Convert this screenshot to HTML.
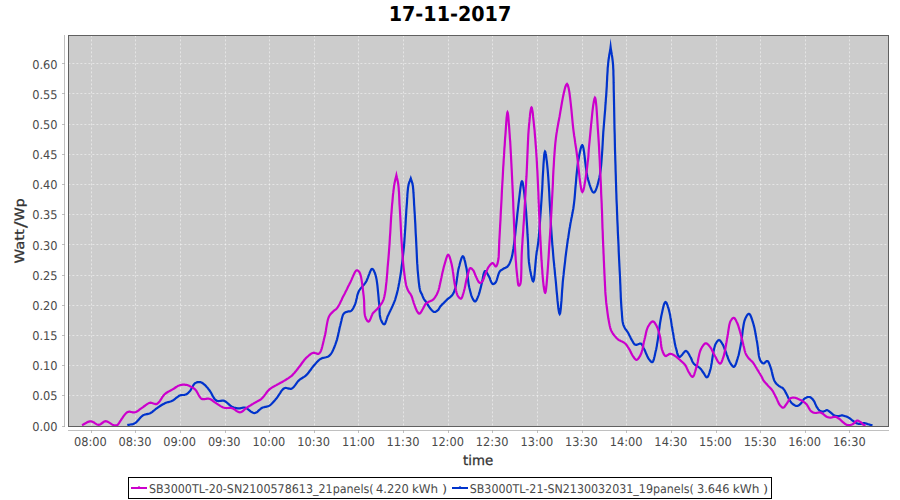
<!DOCTYPE html>
<html><head><meta charset="utf-8"><title>17-11-2017</title>
<style>html,body{margin:0;padding:0;background:#ffffff;overflow:hidden}svg{display:block}</style>
</head><body>
<svg width="900" height="500" viewBox="0 0 900 500" text-rendering="geometricPrecision"><rect x="68" y="35" width="821" height="392" fill="#cccccc"/>
<g stroke="#ffffff" stroke-width="0.5" stroke-dasharray="2,2" stroke-dashoffset="-0.4"><line x1="91.5" y1="35" x2="91.5" y2="426"/><line x1="135.5" y1="35" x2="135.5" y2="426"/><line x1="180.5" y1="35" x2="180.5" y2="426"/><line x1="225.5" y1="35" x2="225.5" y2="426"/><line x1="269.5" y1="35" x2="269.5" y2="426"/><line x1="314.5" y1="35" x2="314.5" y2="426"/><line x1="358.5" y1="35" x2="358.5" y2="426"/><line x1="403.5" y1="35" x2="403.5" y2="426"/><line x1="448.5" y1="35" x2="448.5" y2="426"/><line x1="492.5" y1="35" x2="492.5" y2="426"/><line x1="537.5" y1="35" x2="537.5" y2="426"/><line x1="582.5" y1="35" x2="582.5" y2="426"/><line x1="626.5" y1="35" x2="626.5" y2="426"/><line x1="671.5" y1="35" x2="671.5" y2="426"/><line x1="716.5" y1="35" x2="716.5" y2="426"/><line x1="760.5" y1="35" x2="760.5" y2="426"/><line x1="805.5" y1="35" x2="805.5" y2="426"/><line x1="849.5" y1="35" x2="849.5" y2="426"/><line x1="68" y1="395.5" x2="888" y2="395.5"/><line x1="68" y1="365.5" x2="888" y2="365.5"/><line x1="68" y1="335.5" x2="888" y2="335.5"/><line x1="68" y1="305.5" x2="888" y2="305.5"/><line x1="68" y1="275.5" x2="888" y2="275.5"/><line x1="68" y1="244.5" x2="888" y2="244.5"/><line x1="68" y1="214.5" x2="888" y2="214.5"/><line x1="68" y1="184.5" x2="888" y2="184.5"/><line x1="68" y1="154.5" x2="888" y2="154.5"/><line x1="68" y1="124.5" x2="888" y2="124.5"/><line x1="68" y1="93.5" x2="888" y2="93.5"/><line x1="68" y1="63.5" x2="888" y2="63.5"/></g>
<defs><clipPath id="pc"><rect x="68" y="35" width="820" height="391"/></clipPath></defs><g clip-path="url(#pc)" fill="none" stroke-width="2.2" stroke-linejoin="miter" stroke-miterlimit="10" stroke-linecap="butt"><path stroke="#0033cc" d="M127.3,425.1 L128.1,424.9 L128.9,424.8 L129.6,424.7 L130.4,424.5 L131.2,424.4 L132.0,424.3 L132.8,424.1 L133.5,423.9 L134.3,423.6 L135.0,423.2 L135.8,422.6 L136.6,421.9 L137.4,421.1 L138.2,420.2 L139.0,419.3 L139.7,418.4 L140.5,417.5 L141.3,416.7 L142.1,416.0 L142.9,415.4 L143.6,415.0 L144.3,414.8 L145.1,414.5 L145.8,414.4 L146.5,414.2 L147.3,414.1 L148.0,413.9 L148.8,413.7 L149.5,413.5 L150.2,413.2 L150.9,412.8 L151.7,412.3 L152.4,411.8 L153.1,411.2 L153.8,410.6 L154.5,410.1 L155.2,409.5 L155.9,408.9 L156.7,408.3 L157.4,407.8 L158.2,407.3 L158.9,406.8 L159.7,406.3 L160.5,405.8 L161.3,405.3 L162.1,404.8 L162.9,404.3 L163.7,403.9 L164.5,403.5 L165.3,403.1 L166.0,402.8 L166.8,402.5 L167.5,402.3 L168.2,402.1 L169.0,401.9 L169.7,401.7 L170.4,401.5 L171.2,401.2 L171.9,400.9 L172.6,400.6 L173.3,400.2 L174.1,399.7 L174.8,399.1 L175.5,398.5 L176.2,397.9 L177.0,397.3 L177.7,396.8 L178.4,396.3 L179.1,395.8 L179.8,395.5 L180.4,395.3 L181.0,395.2 L181.6,395.1 L182.2,395.0 L182.7,395.0 L183.3,395.0 L183.9,395.0 L184.5,394.9 L185.0,394.8 L185.5,394.6 L186.0,394.4 L186.4,394.2 L186.8,393.9 L187.2,393.7 L187.6,393.4 L188.0,393.1 L188.3,392.7 L188.7,392.4 L189.1,392.0 L189.5,391.6 L190.1,390.9 L190.6,390.1 L191.1,389.2 L191.7,388.2 L192.2,387.2 L192.8,386.2 L193.3,385.3 L193.9,384.4 L194.5,383.7 L195.1,383.2 L195.5,382.9 L196.0,382.7 L196.4,382.5 L196.9,382.4 L197.3,382.2 L197.8,382.2 L198.3,382.1 L198.7,382.1 L199.2,382.1 L199.6,382.1 L200.0,382.2 L200.4,382.2 L200.8,382.3 L201.2,382.5 L201.6,382.6 L201.9,382.8 L202.3,383.0 L202.7,383.3 L203.1,383.5 L203.5,383.8 L204.1,384.3 L204.7,384.8 L205.3,385.4 L205.9,386.0 L206.5,386.7 L207.2,387.4 L207.8,388.2 L208.4,389.0 L209.0,389.7 L209.6,390.5 L210.3,391.5 L210.9,392.5 L211.6,393.7 L212.2,394.9 L212.8,396.1 L213.5,397.2 L214.1,398.3 L214.8,399.2 L215.6,400.0 L216.4,400.6 L217.1,400.9 L217.8,401.0 L218.6,401.1 L219.4,401.0 L220.2,400.9 L221.0,400.8 L221.9,400.7 L222.7,400.7 L223.4,400.7 L224.2,400.9 L225.0,401.3 L225.8,401.8 L226.6,402.3 L227.4,403.0 L228.1,403.7 L228.9,404.4 L229.7,405.1 L230.4,405.7 L231.2,406.3 L232.0,406.7 L232.7,407.0 L233.4,407.3 L234.0,407.5 L234.7,407.7 L235.4,407.9 L236.1,408.1 L236.8,408.2 L237.5,408.3 L238.1,408.3 L238.8,408.4 L239.4,408.4 L240.0,408.3 L240.7,408.2 L241.3,408.0 L241.9,407.9 L242.5,407.7 L243.1,407.6 L243.7,407.5 L244.3,407.5 L245.0,407.6 L245.9,407.9 L246.8,408.4 L247.8,409.1 L248.7,409.8 L249.7,410.6 L250.6,411.4 L251.6,412.1 L252.6,412.6 L253.5,413.0 L254.4,413.1 L255.2,413.0 L256.0,412.6 L256.8,412.2 L257.6,411.6 L258.3,410.9 L259.1,410.2 L259.9,409.5 L260.6,408.8 L261.4,408.3 L262.2,407.8 L262.9,407.5 L263.6,407.3 L264.4,407.1 L265.1,406.9 L265.8,406.8 L266.6,406.6 L267.3,406.5 L268.0,406.2 L268.7,406.0 L269.4,405.6 L270.2,405.1 L270.9,404.5 L271.7,403.8 L272.4,403.1 L273.1,402.3 L273.8,401.5 L274.5,400.7 L275.2,399.9 L275.9,399.0 L276.6,398.2 L277.4,397.2 L278.1,396.1 L278.9,395.0 L279.6,393.8 L280.4,392.6 L281.1,391.4 L281.9,390.4 L282.7,389.5 L283.5,388.7 L284.4,388.2 L285.1,388.0 L285.8,387.9 L286.5,388.0 L287.3,388.2 L288.0,388.4 L288.7,388.6 L289.5,388.7 L290.2,388.8 L290.9,388.8 L291.6,388.6 L292.4,388.2 L293.2,387.5 L293.9,386.7 L294.6,385.9 L295.4,384.9 L296.1,383.9 L296.8,382.9 L297.5,381.9 L298.2,381.1 L299.0,380.3 L299.7,379.7 L300.4,379.2 L301.1,378.7 L301.9,378.2 L302.6,377.8 L303.3,377.3 L304.1,376.9 L304.8,376.4 L305.5,375.8 L306.2,375.2 L307.0,374.4 L307.8,373.5 L308.6,372.5 L309.3,371.5 L310.1,370.5 L310.9,369.5 L311.6,368.4 L312.4,367.4 L313.1,366.5 L313.9,365.6 L314.6,364.8 L315.2,364.1 L315.8,363.4 L316.5,362.6 L317.1,361.9 L317.8,361.3 L318.4,360.6 L319.1,360.0 L319.8,359.4 L320.6,358.9 L321.4,358.5 L322.3,358.1 L323.2,357.9 L324.1,357.7 L325.1,357.5 L326.0,357.3 L326.9,357.0 L327.8,356.7 L328.6,356.3 L329.4,355.7 L330.2,354.8 L331.0,353.9 L331.7,352.8 L332.4,351.5 L333.0,350.3 L333.6,348.9 L334.2,347.5 L334.7,346.1 L335.3,344.6 L335.8,343.2 L336.4,341.4 L337.0,339.6 L337.5,337.6 L338.0,335.6 L338.4,333.5 L338.9,331.5 L339.3,329.5 L339.7,327.5 L340.2,325.7 L340.6,324.0 L340.9,322.8 L341.2,321.6 L341.5,320.4 L341.7,319.2 L342.0,318.0 L342.3,317.0 L342.6,316.0 L342.9,315.1 L343.3,314.3 L343.8,313.6 L344.1,313.3 L344.5,313.0 L344.8,312.7 L345.2,312.5 L345.6,312.3 L346.0,312.1 L346.4,312.0 L346.8,311.9 L347.2,311.7 L347.6,311.6 L348.0,311.5 L348.3,311.4 L348.7,311.4 L349.0,311.4 L349.4,311.4 L349.7,311.3 L350.1,311.3 L350.4,311.2 L350.8,311.1 L351.1,310.9 L351.6,310.5 L352.0,310.1 L352.4,309.5 L352.8,308.9 L353.2,308.2 L353.6,307.5 L353.9,306.8 L354.3,306.0 L354.7,305.2 L355.0,304.4 L355.4,303.3 L355.8,302.0 L356.1,300.7 L356.4,299.4 L356.8,298.0 L357.1,296.5 L357.4,295.1 L357.8,293.8 L358.3,292.5 L358.8,291.3 L359.4,290.3 L360.0,289.3 L360.7,288.4 L361.4,287.6 L362.2,286.7 L362.9,285.9 L363.7,285.0 L364.4,284.1 L365.1,283.2 L365.8,282.2 L366.5,280.9 L367.2,279.3 L367.9,277.6 L368.5,275.8 L369.2,274.1 L369.8,272.5 L370.4,271.1 L371.0,269.9 L371.5,269.2 L372.1,268.9 L372.5,269.0 L372.9,269.3 L373.2,269.7 L373.6,270.2 L374.0,270.9 L374.3,271.7 L374.7,272.5 L375.0,273.4 L375.3,274.3 L375.6,275.2 L376.1,277.2 L376.6,279.6 L377.0,282.3 L377.4,285.3 L377.7,288.4 L378.0,291.6 L378.3,294.7 L378.6,297.8 L378.8,300.6 L379.1,303.2 L379.3,305.0 L379.4,306.7 L379.5,308.5 L379.5,310.2 L379.6,311.8 L379.7,313.4 L379.8,314.9 L380.0,316.3 L380.3,317.6 L380.6,318.8 L380.9,319.6 L381.2,320.3 L381.5,321.1 L381.9,321.9 L382.3,322.6 L382.7,323.2 L383.1,323.7 L383.5,324.1 L383.9,324.3 L384.2,324.4 L384.6,324.2 L385.0,323.8 L385.3,323.1 L385.7,322.2 L386.0,321.2 L386.4,320.1 L386.7,319.0 L387.1,317.9 L387.4,316.9 L387.8,316.0 L388.2,315.2 L388.6,314.3 L389.0,313.5 L389.4,312.6 L389.8,311.8 L390.2,311.0 L390.6,310.1 L391.0,309.3 L391.4,308.5 L391.8,307.6 L392.2,306.7 L392.6,305.9 L392.9,305.1 L393.3,304.2 L393.7,303.4 L394.0,302.5 L394.4,301.7 L394.7,300.8 L395.1,299.8 L395.4,298.8 L395.8,297.4 L396.2,296.0 L396.6,294.6 L397.0,293.1 L397.4,291.5 L397.8,289.9 L398.1,288.2 L398.5,286.5 L398.8,284.7 L399.2,282.8 L399.7,280.0 L400.2,276.9 L400.7,273.8 L401.2,270.5 L401.6,267.0 L402.1,263.5 L402.5,260.0 L402.9,256.4 L403.3,252.8 L403.7,249.2 L404.1,245.1 L404.4,240.9 L404.7,236.5 L405.0,232.0 L405.3,227.6 L405.6,223.2 L405.8,218.8 L406.1,214.7 L406.3,210.7 L406.6,207.0 L406.8,204.4 L407.0,201.8 L407.1,199.3 L407.3,196.9 L407.4,194.5 L407.6,192.2 L407.8,190.1 L408.0,188.1 L408.3,186.2 L408.6,184.6 L408.8,183.8 L409.0,183.1 L409.2,182.4 L409.4,181.8 L409.7,181.2 L409.9,180.7 L410.1,180.1 L410.3,179.6 L410.6,179.0 L410.8,178.4 L411.0,179.0 L411.2,179.6 L411.4,180.1 L411.5,180.7 L411.7,181.2 L411.9,181.8 L412.1,182.4 L412.3,183.1 L412.4,183.8 L412.6,184.6 L412.9,186.2 L413.1,188.1 L413.3,190.1 L413.4,192.2 L413.6,194.5 L413.7,196.8 L413.9,199.3 L414.0,201.8 L414.1,204.4 L414.3,207.0 L414.5,210.8 L414.8,214.9 L415.0,219.3 L415.3,223.9 L415.5,228.5 L415.7,233.2 L416.0,237.7 L416.2,242.1 L416.4,246.2 L416.6,250.0 L416.7,252.5 L416.8,254.8 L416.9,257.1 L417.0,259.2 L417.1,261.3 L417.2,263.4 L417.4,265.5 L417.5,267.5 L417.6,269.5 L417.8,271.6 L418.0,273.6 L418.2,275.8 L418.4,278.0 L418.6,280.1 L418.8,282.3 L419.1,284.3 L419.3,286.3 L419.6,288.0 L419.9,289.5 L420.2,290.8 L420.3,291.3 L420.5,291.6 L420.7,292.0 L420.8,292.3 L421.0,292.6 L421.1,292.9 L421.3,293.2 L421.5,293.4 L421.6,293.8 L421.8,294.1 L422.0,294.6 L422.2,295.0 L422.4,295.5 L422.6,296.1 L422.8,296.6 L423.0,297.1 L423.2,297.6 L423.4,298.1 L423.7,298.6 L423.9,299.0 L424.1,299.3 L424.3,299.6 L424.5,299.9 L424.7,300.1 L424.9,300.4 L425.1,300.7 L425.3,300.9 L425.6,301.2 L425.8,301.5 L426.0,301.8 L426.3,302.3 L426.6,302.8 L427.0,303.4 L427.3,304.0 L427.7,304.6 L428.0,305.2 L428.4,305.8 L428.8,306.3 L429.1,306.9 L429.5,307.4 L429.8,307.8 L430.2,308.3 L430.5,308.8 L430.9,309.2 L431.3,309.6 L431.6,310.0 L432.0,310.4 L432.3,310.8 L432.7,311.1 L433.0,311.3 L433.2,311.4 L433.4,311.5 L433.5,311.7 L433.7,311.8 L433.9,311.8 L434.1,311.9 L434.2,312.0 L434.4,312.0 L434.6,312.0 L434.8,312.0 L435.1,312.0 L435.4,311.9 L435.7,311.7 L436.0,311.6 L436.4,311.4 L436.7,311.2 L437.0,310.9 L437.3,310.7 L437.6,310.5 L437.9,310.2 L438.2,309.9 L438.5,309.6 L438.7,309.2 L438.9,308.8 L439.2,308.4 L439.4,308.0 L439.6,307.6 L439.9,307.2 L440.1,306.8 L440.4,306.4 L440.7,306.0 L441.1,305.6 L441.5,305.2 L441.8,304.8 L442.2,304.4 L442.6,304.0 L443.0,303.6 L443.4,303.3 L443.8,302.9 L444.2,302.5 L444.6,302.1 L444.9,301.8 L445.2,301.4 L445.6,301.1 L445.9,300.7 L446.3,300.4 L446.6,300.0 L447.0,299.7 L447.3,299.3 L447.7,299.0 L448.1,298.7 L448.5,298.3 L449.0,298.0 L449.4,297.7 L449.9,297.4 L450.3,297.0 L450.7,296.7 L451.1,296.3 L451.5,295.9 L451.9,295.5 L452.3,295.0 L452.6,294.5 L453.0,293.9 L453.3,293.4 L453.6,292.8 L453.9,292.2 L454.2,291.5 L454.4,290.8 L454.7,290.0 L455.0,289.2 L455.5,287.5 L455.9,285.5 L456.3,283.3 L456.7,280.9 L457.0,278.5 L457.4,276.0 L457.7,273.5 L458.1,271.1 L458.5,268.9 L459.0,267.0 L459.4,265.7 L459.7,264.2 L460.1,262.8 L460.5,261.4 L460.9,260.0 L461.3,258.8 L461.7,257.8 L462.1,257.0 L462.5,256.5 L462.9,256.3 L463.3,256.5 L463.6,257.0 L464.0,257.8 L464.3,258.9 L464.6,260.1 L465.0,261.4 L465.3,262.8 L465.6,264.3 L465.9,265.7 L466.2,267.0 L466.6,268.8 L466.9,270.8 L467.2,272.9 L467.5,275.1 L467.8,277.3 L468.0,279.5 L468.3,281.7 L468.6,283.8 L468.9,285.8 L469.3,287.6 L469.6,288.8 L469.9,290.1 L470.2,291.3 L470.5,292.4 L470.8,293.5 L471.1,294.6 L471.4,295.6 L471.8,296.6 L472.1,297.4 L472.5,298.2 L472.7,298.7 L473.0,299.1 L473.2,299.6 L473.5,300.0 L473.8,300.4 L474.0,300.8 L474.3,301.1 L474.6,301.3 L474.8,301.5 L475.1,301.5 L475.4,301.4 L475.8,301.1 L476.1,300.6 L476.5,300.1 L476.8,299.4 L477.1,298.7 L477.5,297.9 L477.8,297.1 L478.1,296.3 L478.4,295.6 L478.8,294.6 L479.1,293.6 L479.5,292.5 L479.8,291.3 L480.1,290.1 L480.4,288.9 L480.7,287.7 L481.0,286.4 L481.3,285.2 L481.6,284.0 L481.9,282.6 L482.3,281.1 L482.6,279.4 L482.9,277.7 L483.2,276.0 L483.5,274.5 L483.9,273.1 L484.3,272.1 L484.7,271.3 L485.1,271.0 L485.4,271.0 L485.8,271.3 L486.1,271.7 L486.5,272.2 L486.9,272.8 L487.3,273.5 L487.7,274.2 L488.1,274.9 L488.4,275.6 L488.8,276.2 L489.2,277.0 L489.6,277.8 L490.0,278.8 L490.3,279.8 L490.7,280.8 L491.1,281.7 L491.5,282.5 L491.9,283.2 L492.3,283.7 L492.7,284.0 L493.0,284.1 L493.2,284.1 L493.5,284.0 L493.8,283.9 L494.1,283.8 L494.4,283.6 L494.7,283.4 L495.0,283.1 L495.2,282.9 L495.5,282.6 L496.0,281.9 L496.4,280.9 L496.8,279.8 L497.2,278.5 L497.6,277.2 L498.0,275.8 L498.4,274.5 L498.8,273.3 L499.3,272.2 L499.8,271.4 L500.1,271.0 L500.5,270.7 L500.8,270.4 L501.2,270.1 L501.5,269.9 L501.9,269.7 L502.3,269.5 L502.6,269.3 L503.0,269.0 L503.4,268.8 L503.8,268.6 L504.2,268.3 L504.7,268.1 L505.1,268.0 L505.5,267.8 L506.0,267.5 L506.4,267.3 L506.8,267.1 L507.2,266.8 L507.6,266.4 L508.0,265.9 L508.5,265.3 L508.9,264.7 L509.3,264.0 L509.6,263.2 L510.0,262.5 L510.3,261.7 L510.6,260.9 L510.9,260.0 L511.2,259.2 L511.5,258.2 L511.8,257.1 L512.1,256.1 L512.3,255.0 L512.5,253.9 L512.7,252.7 L512.9,251.5 L513.1,250.2 L513.4,248.7 L513.6,247.2 L514.1,243.6 L514.6,239.4 L515.2,234.7 L515.7,229.5 L516.3,224.2 L516.9,218.8 L517.4,213.6 L518.0,208.6 L518.5,204.0 L519.0,200.0 L519.3,197.6 L519.6,195.1 L519.9,192.5 L520.2,190.1 L520.5,187.7 L520.8,185.6 L521.1,183.8 L521.4,182.4 L521.7,181.5 L522.0,181.2 L522.3,181.5 L522.6,182.4 L522.9,183.8 L523.2,185.6 L523.5,187.8 L523.9,190.1 L524.2,192.6 L524.5,195.2 L524.7,197.6 L525.0,200.0 L525.4,203.6 L525.7,207.5 L526.1,211.8 L526.4,216.2 L526.7,220.8 L527.0,225.4 L527.3,229.9 L527.5,234.2 L527.8,238.3 L528.0,242.0 L528.1,244.5 L528.2,246.9 L528.3,249.2 L528.4,251.4 L528.4,253.6 L528.5,255.7 L528.6,257.8 L528.8,259.9 L528.9,261.9 L529.2,264.0 L529.5,266.0 L529.8,268.2 L530.2,270.5 L530.7,272.8 L531.1,275.0 L531.6,277.1 L532.0,278.8 L532.4,280.2 L532.8,281.1 L533.2,281.4 L533.6,280.8 L534.0,279.3 L534.3,277.0 L534.6,274.0 L534.9,270.7 L535.2,267.2 L535.5,263.6 L535.8,260.1 L536.1,257.0 L536.4,254.4 L536.6,252.8 L536.8,251.3 L537.1,250.0 L537.3,248.7 L537.5,247.4 L537.7,246.1 L537.9,244.7 L538.1,243.3 L538.3,241.7 L538.5,240.0 L538.8,236.8 L539.1,233.3 L539.4,229.6 L539.7,225.6 L540.0,221.5 L540.3,217.2 L540.6,212.9 L540.9,208.6 L541.2,204.2 L541.5,200.0 L541.8,194.9 L542.2,189.1 L542.5,182.7 L542.8,176.3 L543.2,170.0 L543.5,164.2 L543.9,159.1 L544.2,155.1 L544.6,152.5 L545.0,151.5 L545.2,151.7 L545.4,152.3 L545.6,153.2 L545.9,154.4 L546.1,155.9 L546.3,157.5 L546.5,159.3 L546.8,161.2 L547.0,163.1 L547.2,165.0 L547.7,170.2 L548.2,176.5 L548.7,183.8 L549.2,191.9 L549.6,200.3 L550.1,208.9 L550.6,217.5 L551.0,225.7 L551.5,233.3 L552.0,240.0 L552.3,244.3 L552.7,248.3 L553.0,252.2 L553.3,256.0 L553.6,259.6 L554.0,263.2 L554.3,266.7 L554.7,270.2 L555.0,273.8 L555.4,277.5 L555.8,281.5 L556.2,286.0 L556.6,290.8 L557.1,295.7 L557.5,300.4 L558.0,304.8 L558.4,308.5 L558.9,311.5 L559.3,313.4 L559.7,314.1 L560.1,313.4 L560.4,311.5 L560.8,308.5 L561.1,304.7 L561.5,300.4 L561.8,295.7 L562.1,290.9 L562.5,286.2 L562.8,281.8 L563.2,278.0 L563.6,274.7 L563.9,271.4 L564.3,268.0 L564.7,264.7 L565.1,261.5 L565.4,258.2 L565.8,255.0 L566.2,251.9 L566.6,248.9 L567.0,246.0 L567.3,243.7 L567.6,241.5 L567.9,239.3 L568.3,237.2 L568.6,235.1 L568.9,233.1 L569.2,231.1 L569.5,229.0 L569.9,227.0 L570.2,225.0 L570.5,223.1 L570.9,221.4 L571.2,219.6 L571.5,217.9 L571.9,216.2 L572.2,214.5 L572.6,212.6 L572.9,210.7 L573.3,208.7 L573.6,206.5 L574.1,202.6 L574.6,198.1 L575.0,193.3 L575.4,188.2 L575.9,182.9 L576.3,177.7 L576.8,172.7 L577.3,168.0 L577.8,163.7 L578.4,160.0 L578.8,158.0 L579.1,156.0 L579.5,154.0 L579.9,152.0 L580.3,150.2 L580.7,148.6 L581.1,147.2 L581.5,146.1 L581.9,145.4 L582.3,145.2 L582.9,145.9 L583.4,147.9 L583.9,151.0 L584.4,154.7 L584.9,159.0 L585.4,163.5 L586.0,168.1 L586.6,172.4 L587.3,176.2 L588.0,179.2 L588.5,180.9 L589.1,182.8 L589.6,184.6 L590.2,186.4 L590.8,188.0 L591.4,189.5 L592.0,190.8 L592.6,191.8 L593.2,192.4 L593.8,192.6 L594.4,192.4 L595.0,191.7 L595.6,190.6 L596.1,189.3 L596.7,187.7 L597.3,185.9 L597.8,184.0 L598.3,182.0 L598.8,180.0 L599.3,178.0 L600.0,174.2 L600.7,169.7 L601.2,164.8 L601.6,159.6 L602.0,154.1 L602.4,148.5 L602.7,142.9 L603.0,137.4 L603.3,132.2 L603.7,127.4 L604.0,123.6 L604.3,119.9 L604.6,116.2 L604.9,112.6 L605.2,109.1 L605.4,105.6 L605.7,102.2 L605.9,98.8 L606.2,95.4 L606.4,92.0 L606.6,88.9 L606.8,85.9 L606.9,82.8 L607.1,79.8 L607.2,76.8 L607.4,73.8 L607.6,71.0 L607.7,68.2 L608.0,65.5 L608.2,63.0 L608.4,61.2 L608.6,59.5 L608.9,57.8 L609.1,56.3 L609.3,54.7 L609.6,53.2 L609.9,51.6 L610.1,50.1 L610.4,48.6 L610.6,47.0 L610.8,48.6 L611.1,50.1 L611.3,51.6 L611.6,53.2 L611.8,54.7 L612.1,56.3 L612.3,57.8 L612.5,59.5 L612.7,61.2 L612.9,63.0 L613.1,65.5 L613.2,68.1 L613.4,70.8 L613.4,73.6 L613.5,76.4 L613.6,79.4 L613.6,82.4 L613.7,85.5 L613.7,88.7 L613.8,92.0 L613.9,96.7 L614.0,101.6 L614.1,106.8 L614.2,112.1 L614.3,117.6 L614.4,123.2 L614.5,128.7 L614.7,134.2 L614.8,139.7 L614.9,145.0 L615.0,150.1 L615.2,155.2 L615.3,160.3 L615.5,165.4 L615.6,170.4 L615.8,175.5 L615.9,180.5 L616.1,185.4 L616.2,190.2 L616.4,195.0 L616.5,199.2 L616.7,203.3 L616.9,207.3 L617.0,211.3 L617.2,215.3 L617.3,219.2 L617.5,223.1 L617.7,227.1 L617.8,231.0 L618.0,235.0 L618.2,239.0 L618.4,243.0 L618.6,247.1 L618.7,251.1 L618.9,255.2 L619.1,259.2 L619.3,263.2 L619.5,267.2 L619.7,271.1 L619.9,275.0 L620.1,278.7 L620.2,282.4 L620.4,286.1 L620.5,289.8 L620.7,293.5 L620.8,297.1 L621.0,300.6 L621.2,303.9 L621.4,307.1 L621.6,310.0 L621.8,311.8 L621.9,313.6 L622.0,315.3 L622.1,317.0 L622.3,318.5 L622.4,320.1 L622.6,321.5 L622.9,322.9 L623.2,324.2 L623.6,325.5 L624.0,326.4 L624.4,327.2 L624.8,328.0 L625.3,328.8 L625.8,329.5 L626.3,330.2 L626.8,330.9 L627.3,331.6 L627.8,332.3 L628.2,333.0 L628.6,333.7 L629.0,334.4 L629.3,335.2 L629.7,335.9 L630.0,336.6 L630.4,337.3 L630.7,338.0 L631.1,338.7 L631.4,339.4 L631.8,340.0 L632.1,340.6 L632.5,341.1 L632.8,341.7 L633.1,342.3 L633.4,342.9 L633.8,343.4 L634.2,343.9 L634.5,344.3 L635.0,344.6 L635.4,344.8 L635.9,344.9 L636.4,344.8 L636.9,344.7 L637.5,344.4 L638.1,344.2 L638.7,343.9 L639.3,343.7 L639.8,343.5 L640.3,343.5 L640.8,343.6 L641.3,343.9 L641.7,344.3 L642.1,344.8 L642.4,345.4 L642.8,346.0 L643.1,346.7 L643.4,347.5 L643.7,348.2 L644.1,348.9 L644.4,349.6 L644.8,350.4 L645.2,351.3 L645.6,352.3 L646.0,353.3 L646.4,354.3 L646.9,355.2 L647.3,356.2 L647.7,357.1 L648.1,357.9 L648.6,358.6 L648.9,359.1 L649.3,359.6 L649.7,360.1 L650.1,360.6 L650.4,361.1 L650.8,361.5 L651.2,361.8 L651.5,362.1 L651.9,362.2 L652.2,362.2 L652.7,361.9 L653.1,361.2 L653.5,360.3 L653.9,359.1 L654.2,357.8 L654.6,356.3 L654.9,354.9 L655.2,353.4 L655.5,352.0 L655.8,350.8 L656.1,349.7 L656.3,348.7 L656.5,347.6 L656.7,346.6 L656.9,345.6 L657.0,344.5 L657.2,343.4 L657.4,342.3 L657.6,341.1 L657.8,339.8 L658.1,337.8 L658.4,335.5 L658.7,333.1 L659.0,330.6 L659.4,328.1 L659.7,325.5 L660.1,322.9 L660.5,320.5 L660.9,318.2 L661.3,316.0 L661.7,314.3 L662.1,312.5 L662.5,310.6 L662.9,308.8 L663.3,307.0 L663.7,305.4 L664.2,304.0 L664.6,303.0 L665.1,302.3 L665.5,302.0 L665.8,302.1 L666.2,302.5 L666.6,303.1 L666.9,303.9 L667.3,304.9 L667.7,305.9 L668.0,307.1 L668.4,308.2 L668.7,309.3 L669.0,310.4 L669.4,312.0 L669.8,313.8 L670.2,315.7 L670.5,317.7 L670.9,319.7 L671.2,321.8 L671.5,323.9 L671.8,326.0 L672.2,328.0 L672.5,330.0 L672.8,331.9 L673.2,333.8 L673.5,335.7 L673.8,337.7 L674.2,339.6 L674.5,341.4 L674.8,343.3 L675.2,345.0 L675.6,346.7 L676.0,348.2 L676.3,349.3 L676.6,350.4 L676.9,351.6 L677.1,352.7 L677.4,353.8 L677.8,354.7 L678.1,355.6 L678.5,356.3 L678.9,356.8 L679.4,357.0 L679.9,356.9 L680.5,356.5 L681.2,355.8 L681.9,355.0 L682.6,354.1 L683.3,353.1 L684.1,352.3 L684.7,351.6 L685.4,351.1 L686.0,351.0 L686.5,351.2 L687.0,351.5 L687.5,352.0 L687.9,352.6 L688.4,353.3 L688.8,354.0 L689.2,354.8 L689.6,355.6 L690.0,356.3 L690.4,357.0 L690.8,357.6 L691.1,358.3 L691.4,359.0 L691.7,359.7 L691.9,360.4 L692.2,361.1 L692.5,361.8 L692.9,362.4 L693.3,363.0 L693.7,363.6 L694.2,364.1 L694.8,364.6 L695.4,365.1 L696.0,365.5 L696.7,365.9 L697.4,366.3 L698.0,366.7 L698.7,367.1 L699.3,367.5 L699.8,368.0 L700.2,368.5 L700.7,368.9 L701.1,369.4 L701.5,369.9 L701.8,370.5 L702.2,371.0 L702.5,371.5 L702.9,372.0 L703.2,372.5 L703.6,373.0 L703.9,373.5 L704.3,374.0 L704.6,374.6 L705.0,375.2 L705.3,375.8 L705.6,376.3 L706.0,376.8 L706.3,377.1 L706.6,377.3 L706.9,377.4 L707.3,377.2 L707.6,376.9 L708.0,376.4 L708.3,375.7 L708.7,374.9 L709.0,374.0 L709.3,373.1 L709.6,372.1 L709.9,371.1 L710.2,370.2 L710.6,368.7 L711.0,366.9 L711.3,365.0 L711.7,363.0 L712.0,360.9 L712.3,358.8 L712.6,356.8 L712.9,354.9 L713.2,353.1 L713.5,351.5 L713.7,350.6 L713.9,349.7 L714.1,348.8 L714.3,348.0 L714.5,347.2 L714.7,346.5 L714.9,345.8 L715.1,345.1 L715.4,344.4 L715.7,343.8 L716.0,343.3 L716.3,342.8 L716.6,342.3 L716.9,341.8 L717.3,341.3 L717.6,340.9 L718.0,340.5 L718.3,340.2 L718.7,340.1 L719.0,340.0 L719.3,340.1 L719.7,340.2 L720.0,340.5 L720.4,340.9 L720.7,341.3 L721.0,341.8 L721.4,342.3 L721.7,342.8 L722.0,343.3 L722.3,343.8 L722.7,344.4 L723.0,345.1 L723.4,345.8 L723.7,346.6 L724.0,347.4 L724.3,348.2 L724.6,349.0 L724.9,349.8 L725.3,350.7 L725.6,351.5 L726.0,352.5 L726.4,353.7 L726.8,354.8 L727.3,356.0 L727.7,357.2 L728.1,358.4 L728.6,359.6 L729.0,360.6 L729.5,361.6 L730.0,362.5 L730.4,363.1 L730.7,363.7 L731.1,364.3 L731.5,364.9 L732.0,365.4 L732.4,365.9 L732.8,366.3 L733.2,366.6 L733.5,366.8 L733.9,366.8 L734.3,366.6 L734.8,366.1 L735.2,365.4 L735.6,364.5 L736.0,363.5 L736.4,362.4 L736.8,361.2 L737.1,360.0 L737.5,358.9 L737.8,357.8 L738.2,356.5 L738.6,355.2 L738.9,353.9 L739.2,352.5 L739.5,351.1 L739.8,349.6 L740.1,348.1 L740.4,346.6 L740.7,345.0 L741.0,343.4 L741.4,341.2 L741.7,338.7 L742.1,336.1 L742.4,333.4 L742.7,330.7 L743.1,328.0 L743.5,325.5 L743.9,323.2 L744.4,321.1 L745.0,319.4 L745.3,318.6 L745.7,317.8 L746.1,317.0 L746.5,316.2 L747.0,315.5 L747.4,314.9 L747.8,314.4 L748.2,314.1 L748.6,313.9 L749.0,313.8 L749.4,314.0 L749.9,314.4 L750.3,315.1 L750.7,315.9 L751.1,316.9 L751.5,318.0 L751.9,319.1 L752.3,320.3 L752.6,321.5 L753.0,322.6 L753.5,324.2 L753.9,325.9 L754.4,327.8 L754.8,329.7 L755.2,331.7 L755.5,333.8 L755.9,335.8 L756.3,337.9 L756.6,339.9 L757.0,341.8 L757.3,343.7 L757.6,345.8 L757.9,347.8 L758.1,349.9 L758.4,352.0 L758.6,354.0 L758.9,355.9 L759.3,357.5 L759.7,359.0 L760.2,360.2 L760.5,360.7 L760.8,361.2 L761.1,361.6 L761.4,362.0 L761.7,362.4 L762.0,362.7 L762.4,363.0 L762.7,363.2 L763.0,363.3 L763.4,363.4 L763.8,363.4 L764.2,363.2 L764.6,362.9 L765.0,362.5 L765.4,362.1 L765.9,361.7 L766.3,361.4 L766.7,361.1 L767.0,361.0 L767.4,361.0 L767.8,361.2 L768.2,361.6 L768.5,362.1 L768.8,362.7 L769.1,363.4 L769.4,364.1 L769.7,365.0 L770.0,365.8 L770.3,366.6 L770.6,367.4 L771.0,368.6 L771.4,369.9 L771.7,371.3 L772.1,372.8 L772.4,374.4 L772.8,375.9 L773.2,377.3 L773.6,378.7 L774.0,379.9 L774.5,381.0 L774.9,381.6 L775.2,382.2 L775.6,382.7 L776.0,383.2 L776.4,383.7 L776.8,384.1 L777.3,384.5 L777.7,384.9 L778.1,385.3 L778.6,385.7 L779.0,386.0 L779.5,386.3 L780.0,386.6 L780.5,386.9 L780.9,387.1 L781.4,387.4 L781.9,387.6 L782.4,387.9 L782.8,388.2 L783.2,388.6 L783.6,389.1 L784.0,389.6 L784.4,390.1 L784.8,390.7 L785.1,391.3 L785.4,391.9 L785.7,392.6 L786.1,393.2 L786.4,393.8 L786.7,394.4 L787.0,395.0 L787.3,395.6 L787.6,396.2 L787.9,396.8 L788.1,397.4 L788.4,398.0 L788.7,398.6 L789.0,399.1 L789.3,399.7 L789.6,400.2 L789.9,400.7 L790.2,401.1 L790.6,401.6 L790.9,402.0 L791.2,402.5 L791.6,402.9 L791.9,403.3 L792.3,403.6 L792.7,404.0 L793.1,404.3 L793.5,404.6 L793.9,404.8 L794.3,405.1 L794.7,405.3 L795.1,405.5 L795.6,405.7 L796.0,405.9 L796.4,406.0 L796.8,406.0 L797.2,406.0 L797.6,405.9 L797.9,405.8 L798.3,405.6 L798.6,405.4 L799.0,405.2 L799.3,404.9 L799.7,404.6 L800.0,404.3 L800.4,404.0 L800.7,403.7 L801.1,403.3 L801.5,402.8 L801.9,402.2 L802.3,401.6 L802.6,401.0 L803.0,400.4 L803.4,399.9 L803.8,399.3 L804.2,398.9 L804.7,398.5 L805.1,398.2 L805.6,397.9 L806.1,397.7 L806.5,397.5 L807.0,397.3 L807.5,397.1 L808.0,397.0 L808.5,397.0 L809.0,397.0 L809.4,397.0 L809.8,397.1 L810.3,397.3 L810.7,397.5 L811.1,397.8 L811.5,398.2 L811.9,398.5 L812.3,398.9 L812.7,399.3 L813.0,399.8 L813.4,400.2 L813.8,400.8 L814.2,401.4 L814.6,402.1 L814.9,402.9 L815.2,403.7 L815.6,404.4 L815.9,405.2 L816.2,405.9 L816.5,406.6 L816.9,407.2 L817.2,407.6 L817.4,408.0 L817.7,408.4 L818.0,408.8 L818.2,409.1 L818.5,409.5 L818.8,409.8 L819.1,410.1 L819.4,410.4 L819.7,410.6 L820.0,410.8 L820.3,411.0 L820.6,411.1 L820.9,411.3 L821.2,411.4 L821.5,411.5 L821.8,411.6 L822.1,411.6 L822.5,411.7 L822.8,411.7 L823.2,411.7 L823.6,411.5 L824.1,411.3 L824.5,411.1 L824.9,410.9 L825.4,410.7 L825.8,410.5 L826.3,410.3 L826.7,410.2 L827.1,410.2 L827.5,410.3 L827.8,410.4 L828.2,410.6 L828.5,410.8 L828.9,411.1 L829.2,411.4 L829.6,411.7 L829.9,412.0 L830.3,412.2 L830.6,412.5 L831.0,412.8 L831.3,413.1 L831.7,413.4 L832.1,413.7 L832.5,414.1 L832.8,414.4 L833.2,414.7 L833.6,414.9 L834.0,415.2 L834.4,415.4 L834.8,415.6 L835.2,415.7 L835.5,415.8 L835.9,415.9 L836.3,416.0 L836.7,416.1 L837.1,416.1 L837.5,416.2 L837.9,416.2 L838.3,416.2 L838.7,416.2 L839.0,416.1 L839.4,416.0 L839.7,415.9 L840.1,415.8 L840.4,415.7 L840.8,415.6 L841.1,415.5 L841.5,415.4 L841.8,415.4 L842.1,415.4 L842.5,415.4 L842.8,415.5 L843.2,415.6 L843.5,415.7 L843.9,415.8 L844.2,415.9 L844.6,416.0 L844.9,416.1 L845.3,416.2 L845.7,416.3 L846.1,416.5 L846.5,416.6 L846.9,416.8 L847.3,416.9 L847.7,417.1 L848.0,417.3 L848.4,417.5 L848.8,417.7 L849.2,417.9 L849.6,418.2 L850.0,418.4 L850.4,418.8 L850.8,419.1 L851.2,419.4 L851.5,419.7 L851.9,420.1 L852.3,420.4 L852.7,420.7 L853.1,421.0 L853.5,421.3 L853.9,421.5 L854.2,421.8 L854.6,422.1 L855.0,422.4 L855.4,422.6 L855.8,422.8 L856.2,423.1 L856.6,423.2 L857.0,423.4 L857.4,423.5 L857.8,423.6 L858.2,423.7 L858.6,423.8 L859.0,423.8 L859.4,423.8 L859.8,423.8 L860.1,423.8 L860.5,423.8 L860.9,423.8 L861.2,423.8 L861.5,423.7 L861.8,423.6 L862.2,423.5 L862.5,423.4 L862.8,423.2 L863.1,423.1 L863.4,423.1 L863.7,423.0 L864.0,423.0 L864.4,423.0 L864.7,423.1 L865.1,423.2 L865.5,423.3 L865.9,423.5 L866.3,423.6 L866.7,423.8 L867.1,423.9 L867.5,424.1 L867.9,424.2 L868.3,424.3 L868.8,424.4 L869.2,424.5 L869.7,424.7 L870.2,424.8 L870.6,424.9 L871.1,425.0 L871.6,425.1 L872.0,425.2 L872.5,425.3"/><path stroke="#cc00cc" d="M82.0,425.2 L82.9,424.8 L83.7,424.3 L84.6,423.8 L85.5,423.3 L86.4,422.8 L87.2,422.3 L88.1,421.9 L89.0,421.6 L89.8,421.4 L90.7,421.3 L91.5,421.4 L92.3,421.7 L93.1,422.1 L94.0,422.5 L94.8,423.1 L95.6,423.6 L96.4,424.1 L97.1,424.5 L97.9,424.7 L98.7,424.8 L99.4,424.7 L100.1,424.4 L100.8,424.0 L101.5,423.5 L102.2,423.0 L102.9,422.5 L103.6,422.0 L104.3,421.6 L105.0,421.3 L105.7,421.2 L106.5,421.3 L107.2,421.5 L108.0,421.9 L108.8,422.4 L109.6,422.9 L110.4,423.4 L111.2,423.9 L111.9,424.4 L112.6,424.8 L113.3,425.0 L113.7,425.1 L114.2,425.2 L114.6,425.3 L115.0,425.3 L115.4,425.3 L115.8,425.3 L116.2,425.3 L116.6,425.2 L117.0,425.1 L117.3,425.0 L117.6,424.8 L118.0,424.5 L118.2,424.2 L118.5,423.8 L118.8,423.4 L119.0,423.0 L119.3,422.6 L119.6,422.1 L119.9,421.7 L120.2,421.2 L120.8,420.4 L121.4,419.4 L122.1,418.4 L122.8,417.3 L123.6,416.2 L124.4,415.1 L125.2,414.1 L126.0,413.2 L126.9,412.5 L127.7,412.0 L128.4,411.8 L129.1,411.7 L129.8,411.7 L130.6,411.9 L131.3,412.0 L132.1,412.2 L132.8,412.3 L133.6,412.4 L134.3,412.4 L135.0,412.3 L135.8,412.0 L136.5,411.7 L137.2,411.3 L138.0,410.8 L138.7,410.3 L139.4,409.7 L140.1,409.2 L140.8,408.6 L141.6,408.1 L142.3,407.6 L143.1,407.1 L143.8,406.5 L144.6,406.0 L145.3,405.4 L146.1,404.8 L146.8,404.3 L147.6,403.8 L148.4,403.4 L149.1,403.0 L149.9,402.8 L150.6,402.7 L151.3,402.8 L152.0,403.0 L152.7,403.2 L153.4,403.5 L154.2,403.7 L154.9,403.9 L155.6,404.1 L156.2,404.1 L156.9,403.9 L157.7,403.4 L158.5,402.7 L159.3,401.8 L160.1,400.7 L160.8,399.6 L161.6,398.4 L162.3,397.2 L163.1,396.1 L163.9,395.0 L164.7,394.2 L165.4,393.6 L166.2,393.0 L167.0,392.5 L167.8,392.0 L168.6,391.6 L169.4,391.1 L170.2,390.7 L171.0,390.3 L171.8,389.8 L172.6,389.4 L173.3,388.9 L174.1,388.5 L174.8,388.0 L175.5,387.5 L176.2,387.0 L176.9,386.6 L177.6,386.1 L178.3,385.8 L179.1,385.5 L179.8,385.2 L180.5,385.0 L181.2,384.9 L181.9,384.8 L182.6,384.7 L183.3,384.7 L184.0,384.7 L184.7,384.7 L185.3,384.8 L185.9,384.8 L186.5,384.9 L186.9,385.0 L187.2,385.0 L187.5,385.1 L187.8,385.2 L188.0,385.3 L188.3,385.4 L188.6,385.6 L188.9,385.7 L189.2,385.8 L189.5,386.0 L190.0,386.2 L190.5,386.5 L191.1,386.8 L191.7,387.1 L192.2,387.4 L192.8,387.7 L193.4,388.1 L194.0,388.5 L194.6,388.9 L195.1,389.4 L195.8,390.2 L196.5,391.1 L197.1,392.2 L197.7,393.3 L198.3,394.5 L199.0,395.6 L199.6,396.7 L200.3,397.6 L201.0,398.4 L201.8,398.9 L202.5,399.1 L203.2,399.2 L203.9,399.2 L204.6,399.1 L205.4,399.0 L206.1,398.8 L206.9,398.7 L207.6,398.6 L208.4,398.6 L209.1,398.7 L209.9,399.0 L210.6,399.3 L211.3,399.7 L212.1,400.2 L212.8,400.8 L213.5,401.3 L214.2,401.9 L214.9,402.4 L215.7,402.9 L216.4,403.4 L217.2,403.9 L217.9,404.4 L218.7,404.9 L219.5,405.4 L220.2,405.9 L221.0,406.4 L221.8,406.8 L222.6,407.2 L223.4,407.5 L224.2,407.8 L225.0,408.0 L225.7,408.0 L226.5,408.1 L227.3,408.0 L228.1,408.0 L228.9,407.9 L229.7,407.9 L230.5,407.9 L231.2,407.9 L232.0,408.1 L232.8,408.4 L233.6,408.8 L234.4,409.4 L235.2,409.9 L236.0,410.5 L236.8,411.1 L237.6,411.6 L238.4,412.0 L239.1,412.2 L239.9,412.3 L240.7,412.2 L241.4,411.9 L242.1,411.5 L242.9,411.0 L243.6,410.4 L244.3,409.8 L245.0,409.1 L245.7,408.5 L246.5,407.9 L247.2,407.4 L247.9,406.9 L248.6,406.5 L249.4,406.0 L250.1,405.6 L250.8,405.2 L251.5,404.7 L252.2,404.3 L253.0,403.9 L253.7,403.4 L254.4,403.0 L255.1,402.6 L255.8,402.2 L256.6,401.8 L257.3,401.4 L258.0,401.0 L258.8,400.6 L259.5,400.2 L260.2,399.8 L260.9,399.3 L261.6,398.7 L262.4,397.9 L263.2,397.1 L264.0,396.1 L264.7,395.1 L265.5,394.1 L266.3,393.0 L267.0,392.0 L267.8,391.1 L268.6,390.2 L269.4,389.4 L270.1,388.8 L270.8,388.3 L271.5,387.9 L272.2,387.4 L272.9,387.0 L273.7,386.6 L274.4,386.2 L275.1,385.8 L275.9,385.4 L276.6,385.0 L277.4,384.6 L278.1,384.1 L278.9,383.7 L279.7,383.3 L280.5,382.8 L281.3,382.4 L282.1,382.0 L282.9,381.5 L283.6,381.1 L284.4,380.6 L285.1,380.2 L285.9,379.7 L286.6,379.3 L287.4,378.8 L288.1,378.4 L288.8,377.9 L289.5,377.4 L290.2,376.9 L290.9,376.4 L291.6,375.8 L292.4,375.1 L293.1,374.3 L293.8,373.5 L294.6,372.7 L295.3,371.8 L296.0,371.0 L296.7,370.1 L297.4,369.2 L298.1,368.3 L298.8,367.4 L299.5,366.5 L300.3,365.5 L301.0,364.5 L301.7,363.5 L302.4,362.5 L303.2,361.5 L303.9,360.5 L304.7,359.6 L305.4,358.7 L306.2,357.9 L306.9,357.2 L307.6,356.6 L308.3,356.0 L309.0,355.3 L309.8,354.8 L310.5,354.2 L311.2,353.7 L312.0,353.3 L312.7,353.0 L313.4,352.8 L314.0,352.7 L314.6,352.8 L315.1,353.0 L315.7,353.2 L316.3,353.4 L316.9,353.6 L317.5,353.8 L318.0,353.8 L318.5,353.8 L319.0,353.6 L319.8,352.9 L320.5,351.8 L321.1,350.3 L321.7,348.6 L322.2,346.8 L322.7,344.8 L323.2,342.7 L323.7,340.6 L324.1,338.7 L324.6,336.8 L325.1,334.8 L325.5,332.7 L325.9,330.5 L326.2,328.3 L326.6,326.1 L327.0,323.9 L327.4,321.9 L327.8,320.0 L328.3,318.3 L328.9,316.8 L329.3,316.0 L329.7,315.3 L330.1,314.7 L330.6,314.1 L331.1,313.6 L331.5,313.1 L332.0,312.6 L332.5,312.1 L332.9,311.7 L333.4,311.2 L333.8,310.9 L334.1,310.6 L334.4,310.3 L334.8,310.1 L335.1,309.9 L335.5,309.6 L335.8,309.4 L336.2,309.1 L336.5,308.7 L336.9,308.3 L337.6,307.4 L338.2,306.4 L338.9,305.2 L339.6,303.9 L340.3,302.5 L341.0,301.1 L341.7,299.7 L342.3,298.2 L343.0,296.8 L343.7,295.5 L344.4,294.2 L345.1,292.8 L345.7,291.5 L346.4,290.2 L347.1,288.8 L347.7,287.5 L348.4,286.1 L349.1,284.8 L349.7,283.5 L350.4,282.2 L351.0,280.9 L351.7,279.4 L352.3,277.9 L353.0,276.4 L353.6,274.9 L354.3,273.5 L354.9,272.3 L355.5,271.3 L356.1,270.6 L356.7,270.3 L357.0,270.3 L357.3,270.3 L357.6,270.4 L357.9,270.6 L358.2,270.8 L358.4,271.0 L358.7,271.3 L359.0,271.6 L359.2,272.0 L359.5,272.4 L360.1,273.7 L360.7,275.5 L361.2,277.6 L361.6,280.1 L362.0,282.7 L362.4,285.5 L362.8,288.3 L363.1,291.1 L363.4,293.8 L363.7,296.2 L363.9,298.4 L364.1,300.7 L364.2,303.1 L364.2,305.5 L364.3,307.8 L364.4,310.0 L364.5,312.1 L364.7,314.1 L365.0,315.8 L365.4,317.2 L365.7,317.9 L365.9,318.5 L366.2,319.1 L366.6,319.7 L366.9,320.2 L367.2,320.7 L367.6,321.1 L367.9,321.4 L368.3,321.6 L368.6,321.6 L369.0,321.4 L369.5,320.9 L369.9,320.1 L370.3,319.2 L370.8,318.2 L371.2,317.0 L371.6,315.9 L372.1,314.9 L372.5,313.9 L373.0,313.2 L373.3,312.8 L373.7,312.4 L374.1,312.0 L374.4,311.6 L374.8,311.3 L375.1,311.0 L375.5,310.7 L375.9,310.3 L376.2,310.0 L376.6,309.6 L377.0,309.2 L377.4,308.7 L377.8,308.3 L378.2,307.8 L378.7,307.3 L379.1,306.8 L379.5,306.3 L379.9,305.8 L380.2,305.3 L380.6,304.8 L381.0,304.3 L381.3,303.8 L381.7,303.3 L382.0,302.8 L382.3,302.2 L382.6,301.7 L382.9,301.1 L383.2,300.4 L383.5,299.7 L383.8,298.8 L384.4,296.3 L385.0,293.2 L385.6,289.6 L386.0,285.6 L386.5,281.4 L386.9,276.9 L387.3,272.3 L387.6,267.7 L388.0,263.2 L388.4,258.8 L388.8,253.8 L389.2,248.5 L389.6,243.1 L389.9,237.5 L390.3,232.0 L390.6,226.5 L390.9,221.2 L391.2,216.1 L391.6,211.3 L391.9,207.0 L392.1,204.3 L392.4,201.8 L392.6,199.3 L392.8,196.9 L393.0,194.6 L393.3,192.4 L393.5,190.3 L393.8,188.3 L394.0,186.4 L394.3,184.6 L394.5,183.5 L394.7,182.5 L394.9,181.5 L395.1,180.6 L395.3,179.7 L395.5,178.8 L395.8,178.0 L396.0,177.1 L396.2,176.2 L396.4,175.3 L396.6,176.2 L396.8,177.1 L397.0,178.0 L397.2,178.8 L397.4,179.7 L397.6,180.6 L397.8,181.5 L398.0,182.5 L398.1,183.5 L398.3,184.6 L398.5,186.4 L398.7,188.3 L398.8,190.3 L399.0,192.4 L399.1,194.5 L399.2,196.8 L399.3,199.2 L399.4,201.7 L399.5,204.3 L399.7,207.0 L400.0,211.7 L400.3,217.1 L400.6,222.9 L400.9,229.0 L401.2,235.3 L401.6,241.6 L402.0,247.7 L402.4,253.5 L402.8,258.9 L403.2,263.6 L403.5,266.3 L403.8,269.0 L404.1,271.6 L404.4,274.1 L404.7,276.4 L405.0,278.7 L405.3,280.8 L405.7,282.7 L406.0,284.4 L406.4,286.0 L406.6,286.7 L406.8,287.3 L407.0,287.9 L407.2,288.4 L407.4,289.0 L407.6,289.4 L407.8,289.9 L408.0,290.4 L408.3,290.8 L408.5,291.3 L408.8,291.7 L409.0,292.2 L409.3,292.6 L409.6,292.9 L409.9,293.3 L410.2,293.7 L410.5,294.1 L410.8,294.6 L411.0,295.0 L411.3,295.5 L411.6,296.2 L411.9,297.0 L412.2,297.8 L412.5,298.7 L412.7,299.6 L413.0,300.4 L413.3,301.3 L413.5,302.2 L413.8,303.1 L414.1,303.9 L414.4,304.6 L414.6,305.4 L414.9,306.2 L415.2,306.9 L415.4,307.7 L415.7,308.4 L416.0,309.1 L416.3,309.7 L416.6,310.3 L416.9,310.9 L417.1,311.3 L417.4,311.7 L417.6,312.1 L417.9,312.4 L418.1,312.8 L418.4,313.1 L418.6,313.3 L418.9,313.5 L419.1,313.7 L419.4,313.7 L419.7,313.6 L420.0,313.4 L420.3,313.1 L420.6,312.6 L421.0,312.2 L421.3,311.6 L421.6,311.1 L421.9,310.5 L422.2,310.0 L422.5,309.5 L422.8,309.0 L423.1,308.4 L423.4,307.8 L423.8,307.2 L424.1,306.6 L424.4,306.0 L424.7,305.4 L425.0,304.8 L425.3,304.3 L425.7,303.9 L426.0,303.6 L426.3,303.4 L426.6,303.1 L426.9,302.9 L427.2,302.7 L427.5,302.5 L427.8,302.4 L428.1,302.2 L428.5,302.0 L428.8,301.8 L429.2,301.6 L429.6,301.4 L430.0,301.2 L430.5,301.0 L430.9,300.8 L431.4,300.7 L431.8,300.5 L432.2,300.2 L432.6,300.0 L433.0,299.7 L433.4,299.4 L433.7,299.0 L434.1,298.6 L434.4,298.2 L434.7,297.8 L435.0,297.3 L435.3,296.9 L435.6,296.4 L435.9,296.0 L436.2,295.5 L436.5,295.0 L436.8,294.5 L437.0,293.9 L437.3,293.4 L437.5,292.8 L437.7,292.3 L438.0,291.7 L438.2,291.1 L438.4,290.5 L438.6,289.9 L438.8,289.2 L439.0,288.4 L439.2,287.7 L439.4,286.9 L439.6,286.1 L439.7,285.3 L439.9,284.5 L440.1,283.6 L440.3,282.7 L440.5,281.8 L440.8,280.4 L441.1,278.9 L441.5,277.2 L441.8,275.6 L442.2,273.8 L442.6,272.1 L443.0,270.4 L443.4,268.7 L443.8,267.1 L444.2,265.6 L444.6,264.3 L445.0,262.9 L445.4,261.5 L445.8,260.1 L446.2,258.7 L446.6,257.5 L447.0,256.4 L447.4,255.5 L447.8,255.0 L448.2,254.8 L448.5,254.9 L448.9,255.3 L449.2,255.9 L449.5,256.7 L449.9,257.7 L450.2,258.7 L450.5,259.8 L450.8,261.0 L451.1,262.1 L451.4,263.2 L451.8,265.0 L452.2,267.1 L452.6,269.3 L452.9,271.7 L453.3,274.1 L453.6,276.6 L453.9,279.0 L454.3,281.3 L454.6,283.5 L455.0,285.4 L455.3,286.7 L455.5,288.0 L455.8,289.2 L456.0,290.4 L456.3,291.6 L456.6,292.7 L456.9,293.7 L457.2,294.6 L457.6,295.5 L458.0,296.2 L458.3,296.6 L458.6,297.0 L458.9,297.3 L459.2,297.7 L459.5,298.0 L459.8,298.2 L460.1,298.4 L460.4,298.6 L460.7,298.6 L461.0,298.6 L461.3,298.5 L461.6,298.2 L461.8,297.8 L462.1,297.3 L462.3,296.7 L462.5,296.1 L462.7,295.4 L462.9,294.6 L463.2,293.9 L463.4,293.2 L463.8,291.8 L464.2,290.2 L464.7,288.3 L465.1,286.4 L465.5,284.3 L465.9,282.3 L466.3,280.3 L466.8,278.4 L467.2,276.7 L467.6,275.2 L467.9,274.3 L468.1,273.4 L468.4,272.4 L468.6,271.5 L468.8,270.7 L469.1,269.9 L469.4,269.2 L469.6,268.7 L470.0,268.3 L470.3,268.1 L470.6,268.1 L470.8,268.1 L471.1,268.3 L471.4,268.5 L471.7,268.7 L472.0,269.0 L472.3,269.3 L472.6,269.6 L472.9,270.0 L473.2,270.3 L473.6,270.8 L473.9,271.5 L474.2,272.2 L474.5,272.9 L474.8,273.7 L475.1,274.5 L475.4,275.3 L475.7,276.1 L476.1,276.8 L476.4,277.5 L476.7,278.1 L477.0,278.8 L477.3,279.5 L477.7,280.2 L478.0,280.8 L478.3,281.4 L478.7,282.0 L479.0,282.4 L479.3,282.7 L479.7,282.9 L480.0,282.9 L480.2,282.9 L480.5,282.8 L480.7,282.7 L481.0,282.6 L481.3,282.4 L481.5,282.2 L481.8,281.9 L482.1,281.7 L482.3,281.4 L482.7,280.9 L483.0,280.3 L483.3,279.5 L483.7,278.8 L484.0,277.9 L484.2,277.0 L484.5,276.1 L484.8,275.3 L485.2,274.4 L485.5,273.6 L485.9,272.8 L486.2,272.0 L486.6,271.1 L487.0,270.2 L487.3,269.4 L487.7,268.6 L488.1,267.8 L488.5,267.1 L489.0,266.4 L489.4,265.8 L489.7,265.4 L490.0,265.0 L490.4,264.7 L490.7,264.3 L491.0,264.0 L491.4,263.7 L491.7,263.5 L492.0,263.3 L492.4,263.2 L492.7,263.2 L493.0,263.3 L493.4,263.6 L493.7,264.0 L494.1,264.4 L494.4,264.9 L494.7,265.4 L495.0,265.8 L495.3,266.1 L495.6,266.4 L495.9,266.4 L496.2,266.3 L496.4,266.1 L496.6,265.8 L496.8,265.4 L497.0,264.9 L497.2,264.4 L497.4,263.8 L497.6,263.2 L497.7,262.5 L497.9,261.9 L498.2,260.3 L498.5,258.5 L498.7,256.4 L498.8,254.1 L498.9,251.7 L499.0,249.1 L499.1,246.3 L499.2,243.5 L499.3,240.5 L499.5,237.5 L499.8,232.1 L500.1,226.1 L500.5,219.5 L500.8,212.6 L501.2,205.5 L501.6,198.2 L501.9,191.1 L502.3,184.2 L502.7,177.7 L503.0,171.8 L503.2,167.7 L503.5,163.6 L503.7,159.7 L504.0,155.9 L504.2,152.2 L504.4,148.6 L504.7,145.1 L504.9,141.6 L505.1,138.3 L505.4,135.0 L505.6,132.3 L505.8,129.4 L506.0,126.4 L506.2,123.3 L506.4,120.5 L506.6,117.8 L506.9,115.6 L507.1,113.8 L507.3,112.7 L507.5,112.3 L507.7,112.7 L507.9,113.8 L508.2,115.6 L508.4,117.8 L508.6,120.5 L508.8,123.3 L509.1,126.4 L509.3,129.4 L509.5,132.3 L509.7,135.0 L509.9,138.3 L510.2,141.7 L510.4,145.3 L510.6,148.9 L510.8,152.7 L511.0,156.4 L511.2,160.3 L511.4,164.1 L511.6,168.0 L511.8,171.8 L512.0,176.0 L512.2,180.2 L512.4,184.6 L512.6,188.9 L512.8,193.3 L513.0,197.7 L513.2,202.1 L513.3,206.4 L513.5,210.7 L513.7,215.0 L513.9,219.1 L514.0,223.2 L514.2,227.3 L514.3,231.5 L514.5,235.6 L514.7,239.6 L514.8,243.5 L515.0,247.3 L515.2,250.9 L515.4,254.4 L515.6,256.9 L515.7,259.3 L515.9,261.6 L516.1,263.9 L516.2,266.1 L516.4,268.3 L516.6,270.4 L516.8,272.3 L517.0,274.2 L517.2,276.0 L517.3,277.2 L517.5,278.4 L517.6,279.7 L517.7,280.9 L517.8,282.1 L518.0,283.2 L518.1,284.1 L518.3,284.8 L518.5,285.4 L518.8,285.6 L518.9,285.6 L519.1,285.6 L519.2,285.6 L519.3,285.5 L519.5,285.4 L519.6,285.2 L519.8,285.0 L519.9,284.9 L520.1,284.6 L520.2,284.4 L520.6,283.1 L520.9,281.0 L521.1,278.5 L521.2,275.5 L521.3,272.2 L521.4,268.6 L521.4,265.0 L521.5,261.3 L521.6,257.7 L521.7,254.4 L521.9,250.7 L522.1,246.9 L522.4,243.0 L522.6,239.1 L522.9,235.1 L523.2,231.1 L523.4,227.1 L523.7,223.1 L524.0,219.0 L524.2,215.0 L524.5,210.8 L524.7,206.5 L525.0,202.2 L525.2,197.9 L525.5,193.6 L525.7,189.2 L526.0,184.9 L526.2,180.5 L526.5,176.2 L526.7,171.8 L526.9,167.3 L527.1,162.6 L527.3,157.8 L527.5,153.1 L527.7,148.3 L527.9,143.6 L528.1,139.1 L528.3,134.8 L528.6,130.7 L528.9,127.0 L529.1,124.5 L529.4,121.9 L529.6,119.3 L529.9,116.7 L530.1,114.2 L530.4,112.0 L530.7,110.1 L531.0,108.7 L531.2,107.7 L531.5,107.4 L531.8,107.7 L532.0,108.7 L532.3,110.1 L532.6,112.0 L532.9,114.2 L533.1,116.7 L533.4,119.3 L533.7,121.9 L533.9,124.5 L534.2,127.0 L534.6,130.7 L534.9,134.8 L535.3,139.1 L535.6,143.6 L536.0,148.3 L536.3,153.1 L536.6,157.8 L536.9,162.6 L537.1,167.3 L537.4,171.8 L537.6,176.2 L537.8,180.6 L538.0,185.1 L538.2,189.5 L538.4,193.9 L538.5,198.3 L538.7,202.6 L538.9,206.9 L539.0,211.0 L539.2,215.0 L539.4,218.3 L539.5,221.5 L539.7,224.6 L539.8,227.7 L540.0,230.8 L540.1,233.8 L540.3,236.7 L540.4,239.5 L540.6,242.3 L540.7,245.0 L540.8,247.1 L540.9,249.1 L541.0,251.0 L541.1,252.9 L541.2,254.7 L541.3,256.5 L541.4,258.3 L541.5,260.2 L541.7,262.1 L541.8,264.0 L541.9,266.2 L542.1,268.4 L542.3,270.7 L542.4,273.1 L542.6,275.4 L542.8,277.7 L543.0,279.9 L543.2,282.0 L543.4,283.9 L543.6,285.6 L543.7,286.5 L543.9,287.5 L544.0,288.5 L544.2,289.5 L544.4,290.4 L544.5,291.2 L544.7,291.8 L544.9,292.4 L545.0,292.7 L545.2,292.8 L545.7,291.7 L546.1,288.7 L546.6,284.1 L547.1,278.2 L547.6,271.6 L548.1,264.4 L548.6,257.1 L549.0,250.1 L549.4,243.6 L549.8,238.0 L550.1,234.0 L550.3,230.1 L550.6,226.3 L550.8,222.7 L551.0,219.0 L551.2,215.4 L551.4,211.7 L551.6,208.0 L551.8,204.1 L552.0,200.0 L552.3,194.7 L552.6,189.0 L552.9,183.1 L553.1,177.0 L553.4,170.9 L553.8,164.9 L554.1,159.0 L554.5,153.4 L554.9,148.2 L555.3,143.5 L555.6,140.8 L555.9,138.2 L556.2,135.8 L556.5,133.6 L556.9,131.4 L557.2,129.3 L557.6,127.1 L558.0,124.8 L558.4,122.5 L558.9,120.0 L559.6,116.4 L560.3,112.1 L561.1,107.5 L561.9,102.7 L562.8,97.9 L563.7,93.5 L564.6,89.7 L565.4,86.7 L566.3,84.7 L567.0,84.0 L567.8,85.1 L568.6,88.0 L569.4,92.3 L570.1,97.8 L570.8,104.0 L571.5,110.6 L572.1,117.2 L572.7,123.5 L573.3,129.1 L573.9,133.6 L574.2,136.0 L574.6,138.2 L574.9,140.3 L575.1,142.2 L575.4,144.1 L575.7,146.0 L576.0,147.9 L576.3,149.9 L576.6,152.0 L576.9,154.3 L577.4,158.0 L577.9,162.3 L578.4,167.2 L579.0,172.2 L579.5,177.2 L580.1,181.8 L580.7,185.9 L581.2,189.1 L581.8,191.2 L582.4,192.0 L583.0,191.3 L583.6,189.5 L584.2,186.7 L584.8,183.1 L585.5,179.1 L586.1,174.9 L586.7,170.6 L587.2,166.5 L587.6,162.9 L588.0,160.0 L588.2,158.5 L588.3,157.2 L588.4,155.9 L588.5,154.8 L588.5,153.7 L588.6,152.5 L588.7,151.3 L588.7,150.0 L588.9,148.6 L589.0,147.0 L589.4,142.9 L589.9,137.6 L590.5,131.4 L591.1,124.8 L591.8,118.2 L592.4,111.8 L593.1,106.2 L593.8,101.7 L594.4,98.8 L594.9,97.7 L595.3,98.3 L595.7,100.1 L596.0,102.9 L596.4,106.5 L596.7,110.6 L597.0,115.2 L597.3,120.0 L597.6,124.9 L597.9,129.6 L598.2,134.0 L598.6,139.9 L599.0,146.3 L599.3,153.0 L599.7,160.0 L600.0,167.1 L600.4,174.2 L600.7,181.1 L601.0,187.8 L601.2,194.2 L601.5,200.0 L601.7,203.9 L601.8,207.7 L602.0,211.3 L602.1,214.8 L602.2,218.2 L602.3,221.5 L602.4,224.8 L602.5,228.2 L602.7,231.5 L602.8,235.0 L602.9,238.5 L603.1,242.0 L603.2,245.6 L603.4,249.1 L603.5,252.7 L603.7,256.2 L603.8,259.7 L604.0,263.2 L604.1,266.6 L604.3,270.0 L604.4,273.1 L604.6,276.2 L604.7,279.3 L604.9,282.4 L605.0,285.4 L605.2,288.5 L605.3,291.4 L605.5,294.3 L605.8,297.2 L606.0,300.0 L606.2,302.4 L606.5,304.8 L606.8,307.2 L607.1,309.5 L607.4,311.8 L607.7,314.1 L608.0,316.2 L608.3,318.3 L608.7,320.2 L609.0,322.0 L609.2,323.1 L609.4,324.1 L609.6,325.0 L609.8,326.0 L610.0,326.8 L610.2,327.7 L610.4,328.5 L610.7,329.3 L611.0,330.2 L611.4,331.0 L611.9,331.9 L612.4,332.8 L613.0,333.8 L613.7,334.7 L614.4,335.6 L615.1,336.4 L615.8,337.2 L616.5,338.0 L617.3,338.7 L618.0,339.4 L618.6,339.9 L619.3,340.3 L620.0,340.6 L620.7,341.0 L621.4,341.3 L622.1,341.6 L622.8,341.9 L623.4,342.2 L624.0,342.6 L624.6,343.0 L625.1,343.5 L625.6,343.9 L626.0,344.4 L626.5,345.0 L626.9,345.5 L627.3,346.0 L627.6,346.6 L628.0,347.2 L628.4,347.8 L628.8,348.4 L629.2,349.1 L629.7,349.9 L630.1,350.7 L630.5,351.6 L630.9,352.4 L631.3,353.2 L631.7,354.1 L632.1,354.8 L632.6,355.6 L633.0,356.2 L633.3,356.7 L633.7,357.2 L634.1,357.7 L634.4,358.2 L634.8,358.6 L635.1,359.0 L635.5,359.3 L635.9,359.6 L636.2,359.8 L636.6,359.8 L637.0,359.7 L637.5,359.4 L637.9,359.0 L638.3,358.5 L638.8,358.0 L639.2,357.3 L639.6,356.6 L640.1,355.9 L640.4,355.1 L640.8,354.4 L641.3,353.3 L641.7,352.0 L642.1,350.6 L642.5,349.2 L642.8,347.6 L643.1,346.1 L643.4,344.5 L643.7,343.0 L644.0,341.4 L644.4,340.0 L644.7,338.6 L645.1,337.2 L645.4,335.8 L645.7,334.4 L646.0,332.9 L646.3,331.6 L646.7,330.2 L647.1,329.0 L647.5,327.8 L648.0,326.8 L648.4,326.1 L648.9,325.3 L649.3,324.6 L649.8,323.9 L650.3,323.2 L650.8,322.6 L651.4,322.1 L651.9,321.7 L652.3,321.5 L652.8,321.4 L653.2,321.5 L653.6,321.7 L653.9,322.0 L654.3,322.3 L654.7,322.8 L655.1,323.3 L655.4,323.9 L655.7,324.5 L656.1,325.0 L656.4,325.6 L656.8,326.4 L657.3,327.4 L657.7,328.4 L658.1,329.5 L658.4,330.6 L658.8,331.7 L659.1,332.9 L659.4,334.1 L659.7,335.2 L660.0,336.4 L660.3,337.7 L660.5,339.0 L660.6,340.4 L660.8,341.8 L660.9,343.2 L661.1,344.6 L661.2,346.0 L661.4,347.3 L661.7,348.5 L662.0,349.6 L662.3,350.4 L662.6,351.2 L662.8,352.0 L663.2,352.8 L663.5,353.5 L663.8,354.2 L664.2,354.8 L664.6,355.3 L665.0,355.7 L665.5,355.9 L665.9,356.0 L666.4,355.9 L666.8,355.6 L667.3,355.3 L667.8,355.0 L668.3,354.7 L668.9,354.3 L669.4,354.0 L669.9,353.9 L670.4,353.8 L671.0,353.9 L671.5,354.0 L672.1,354.2 L672.7,354.5 L673.2,354.8 L673.8,355.1 L674.4,355.5 L674.9,355.9 L675.5,356.2 L676.0,356.6 L676.5,357.0 L677.0,357.4 L677.5,357.8 L678.0,358.2 L678.5,358.6 L679.0,359.1 L679.5,359.5 L680.0,359.9 L680.4,360.4 L680.9,360.8 L681.3,361.2 L681.7,361.5 L682.2,361.9 L682.6,362.3 L683.0,362.6 L683.4,363.0 L683.8,363.4 L684.1,363.8 L684.5,364.2 L684.9,364.7 L685.4,365.4 L685.8,366.2 L686.3,367.0 L686.7,367.9 L687.1,368.8 L687.6,369.8 L688.0,370.7 L688.4,371.5 L688.9,372.3 L689.3,373.0 L689.6,373.5 L690.0,374.0 L690.3,374.6 L690.6,375.1 L691.0,375.6 L691.3,376.0 L691.6,376.4 L692.0,376.6 L692.3,376.8 L692.6,376.8 L693.0,376.6 L693.5,376.0 L693.9,375.3 L694.3,374.3 L694.6,373.2 L695.0,372.0 L695.4,370.7 L695.8,369.4 L696.1,368.1 L696.5,366.9 L697.0,365.3 L697.4,363.6 L697.8,361.7 L698.1,359.8 L698.5,357.8 L698.9,355.9 L699.3,354.0 L699.8,352.3 L700.3,350.7 L700.9,349.3 L701.3,348.5 L701.8,347.6 L702.2,346.8 L702.7,346.1 L703.2,345.3 L703.7,344.7 L704.3,344.1 L704.8,343.7 L705.3,343.4 L705.8,343.3 L706.2,343.3 L706.7,343.5 L707.1,343.8 L707.6,344.1 L708.0,344.5 L708.5,345.0 L708.9,345.5 L709.4,346.1 L709.8,346.6 L710.2,347.1 L710.7,347.8 L711.2,348.5 L711.6,349.3 L712.0,350.2 L712.4,351.0 L712.8,351.9 L713.3,352.8 L713.7,353.7 L714.1,354.6 L714.6,355.4 L715.1,356.3 L715.7,357.3 L716.2,358.4 L716.8,359.5 L717.4,360.6 L718.0,361.6 L718.6,362.4 L719.1,363.1 L719.6,363.5 L720.1,363.6 L720.5,363.5 L720.9,363.1 L721.2,362.6 L721.6,362.0 L721.9,361.3 L722.2,360.4 L722.5,359.6 L722.8,358.7 L723.1,357.8 L723.4,357.0 L723.8,355.9 L724.1,354.6 L724.4,353.3 L724.7,351.9 L725.0,350.4 L725.3,349.0 L725.5,347.6 L725.8,346.2 L726.0,345.0 L726.2,343.8 L726.3,343.0 L726.5,342.3 L726.6,341.7 L726.7,341.1 L726.8,340.4 L726.9,339.8 L727.0,339.2 L727.1,338.5 L727.3,337.8 L727.4,337.0 L727.6,335.6 L727.9,334.0 L728.1,332.3 L728.4,330.5 L728.7,328.6 L729.0,326.8 L729.3,325.1 L729.7,323.5 L730.1,322.1 L730.6,321.0 L730.9,320.5 L731.2,320.0 L731.5,319.6 L731.8,319.1 L732.2,318.7 L732.5,318.4 L732.8,318.1 L733.2,317.9 L733.5,317.8 L733.8,317.8 L734.1,317.9 L734.5,318.2 L734.8,318.5 L735.1,319.0 L735.5,319.5 L735.8,320.1 L736.1,320.7 L736.4,321.4 L736.7,322.0 L737.0,322.6 L737.4,323.4 L737.7,324.3 L738.1,325.2 L738.4,326.1 L738.7,327.1 L739.0,328.1 L739.3,329.1 L739.6,330.1 L739.9,331.2 L740.2,332.2 L740.5,333.4 L740.9,334.7 L741.2,336.0 L741.5,337.3 L741.9,338.6 L742.2,340.0 L742.5,341.3 L742.8,342.6 L743.1,343.8 L743.4,345.0 L743.6,346.0 L743.9,346.9 L744.1,347.9 L744.3,348.8 L744.5,349.7 L744.7,350.6 L745.0,351.4 L745.2,352.3 L745.5,353.1 L745.8,353.8 L746.1,354.4 L746.4,354.9 L746.6,355.4 L747.0,355.9 L747.3,356.4 L747.6,356.8 L747.9,357.3 L748.3,357.7 L748.6,358.2 L749.0,358.6 L749.4,359.0 L749.8,359.4 L750.2,359.8 L750.6,360.2 L751.0,360.6 L751.4,360.9 L751.8,361.3 L752.2,361.7 L752.6,362.1 L753.0,362.6 L753.4,363.2 L753.8,363.7 L754.2,364.4 L754.6,365.0 L755.0,365.6 L755.4,366.3 L755.8,367.0 L756.2,367.6 L756.6,368.3 L757.0,369.0 L757.5,369.8 L758.0,370.6 L758.5,371.4 L759.0,372.3 L759.5,373.1 L760.1,374.0 L760.5,374.8 L761.0,375.6 L761.4,376.3 L761.8,377.0 L762.0,377.4 L762.2,377.8 L762.3,378.1 L762.5,378.5 L762.6,378.8 L762.8,379.1 L762.9,379.5 L763.1,379.8 L763.3,380.1 L763.5,380.5 L763.9,381.0 L764.3,381.5 L764.7,382.0 L765.2,382.6 L765.6,383.1 L766.2,383.6 L766.7,384.1 L767.2,384.7 L767.6,385.2 L768.1,385.7 L768.5,386.2 L768.9,386.6 L769.4,387.0 L769.8,387.5 L770.2,387.9 L770.6,388.4 L771.0,388.8 L771.4,389.3 L771.8,389.8 L772.2,390.3 L772.6,391.0 L773.1,391.7 L773.5,392.4 L773.9,393.2 L774.3,394.0 L774.7,394.8 L775.1,395.6 L775.5,396.4 L775.9,397.1 L776.3,397.9 L776.7,398.6 L777.0,399.4 L777.3,400.1 L777.6,400.8 L777.9,401.6 L778.3,402.3 L778.6,403.0 L778.9,403.7 L779.3,404.3 L779.7,404.8 L780.0,405.2 L780.4,405.6 L780.7,406.0 L781.1,406.4 L781.4,406.8 L781.8,407.1 L782.1,407.4 L782.5,407.6 L782.9,407.7 L783.2,407.7 L783.6,407.6 L783.9,407.4 L784.3,407.1 L784.6,406.7 L785.0,406.2 L785.3,405.7 L785.7,405.2 L786.0,404.7 L786.4,404.2 L786.7,403.7 L787.1,403.2 L787.4,402.6 L787.7,402.1 L788.1,401.5 L788.4,400.9 L788.7,400.3 L789.1,399.8 L789.4,399.3 L789.8,398.8 L790.2,398.5 L790.5,398.3 L790.8,398.1 L791.2,398.0 L791.5,397.9 L791.9,397.8 L792.2,397.7 L792.6,397.6 L793.0,397.6 L793.3,397.6 L793.7,397.6 L794.1,397.6 L794.6,397.7 L795.0,397.8 L795.5,397.9 L796.0,398.1 L796.4,398.3 L796.9,398.4 L797.4,398.6 L797.8,398.8 L798.3,399.0 L798.8,399.2 L799.3,399.4 L799.7,399.6 L800.2,399.9 L800.7,400.1 L801.2,400.3 L801.7,400.6 L802.1,400.9 L802.6,401.1 L803.0,401.4 L803.4,401.7 L803.8,401.9 L804.1,402.2 L804.5,402.4 L804.8,402.7 L805.1,403.0 L805.5,403.3 L805.8,403.6 L806.2,403.9 L806.5,404.3 L807.0,404.9 L807.4,405.5 L807.9,406.3 L808.3,407.1 L808.7,407.9 L809.2,408.6 L809.6,409.4 L810.1,410.1 L810.6,410.7 L811.1,411.2 L811.5,411.5 L811.9,411.8 L812.3,412.0 L812.7,412.2 L813.1,412.4 L813.5,412.6 L813.9,412.7 L814.3,412.8 L814.8,412.9 L815.2,413.0 L815.6,413.0 L816.1,413.0 L816.6,412.9 L817.1,412.8 L817.5,412.7 L818.0,412.6 L818.5,412.5 L818.9,412.4 L819.4,412.4 L819.8,412.4 L820.1,412.5 L820.4,412.5 L820.8,412.6 L821.0,412.7 L821.3,412.9 L821.6,413.0 L821.9,413.2 L822.2,413.3 L822.5,413.5 L822.8,413.7 L823.2,414.0 L823.6,414.3 L823.9,414.6 L824.3,414.9 L824.7,415.3 L825.1,415.6 L825.5,416.0 L825.9,416.3 L826.3,416.6 L826.7,416.8 L827.1,417.0 L827.4,417.1 L827.8,417.2 L828.2,417.3 L828.6,417.4 L829.0,417.5 L829.4,417.5 L829.8,417.6 L830.2,417.6 L830.6,417.6 L831.0,417.6 L831.5,417.5 L832.0,417.4 L832.4,417.3 L832.9,417.1 L833.4,417.0 L833.8,416.9 L834.3,416.8 L834.8,416.8 L835.2,416.8 L835.6,416.9 L836.0,417.0 L836.4,417.1 L836.8,417.3 L837.2,417.5 L837.6,417.7 L838.0,418.0 L838.3,418.2 L838.7,418.4 L839.1,418.7 L839.5,419.0 L839.9,419.3 L840.3,419.7 L840.7,420.0 L841.1,420.4 L841.4,420.8 L841.8,421.2 L842.2,421.5 L842.6,421.9 L843.0,422.2 L843.4,422.5 L843.8,422.8 L844.1,423.1 L844.5,423.5 L844.9,423.8 L845.3,424.1 L845.7,424.3 L846.1,424.6 L846.5,424.7 L846.9,424.9 L847.3,425.0 L847.7,425.1 L848.1,425.1 L848.5,425.1 L848.9,425.1 L849.3,425.1 L849.7,425.1 L850.1,425.0 L850.4,425.0 L850.8,424.9 L851.1,424.8 L851.5,424.7 L851.8,424.6 L852.1,424.4 L852.4,424.3 L852.7,424.1 L853.0,424.0 L853.3,423.8 L853.6,423.6 L853.9,423.4 L854.2,423.2 L854.5,422.9 L854.8,422.5 L855.1,422.2 L855.4,421.9 L855.7,421.5 L856.1,421.2 L856.4,421.0 L856.7,420.8 L857.0,420.7 L857.3,420.7 L857.6,420.7 L857.9,420.7 L858.2,420.8 L858.5,421.0 L858.9,421.1 L859.2,421.3 L859.5,421.4 L859.8,421.6 L860.1,421.8 L860.4,422.0 L860.7,422.3 L861.1,422.5 L861.4,422.8 L861.7,423.1 L862.0,423.4 L862.3,423.7 L862.6,424.0 L862.9,424.3 L863.2,424.5 L863.4,424.7 L863.7,424.8 L863.9,424.9 L864.1,425.0 L864.4,425.2 L864.6,425.3 L864.8,425.4 L865.0,425.5 L865.3,425.6 L865.5,425.7"/></g>
<rect x="68.5" y="35.5" width="820" height="391" fill="none" stroke="#606060" stroke-width="1"/>
<g stroke="#808080" stroke-width="0.5"><line x1="64.5" y1="35" x2="64.5" y2="427"/><line x1="68" y1="430.5" x2="889" y2="430.5"/><line x1="62" y1="426.5" x2="64.5" y2="426.5"/><line x1="62" y1="395.5" x2="64.5" y2="395.5"/><line x1="62" y1="365.5" x2="64.5" y2="365.5"/><line x1="62" y1="335.5" x2="64.5" y2="335.5"/><line x1="62" y1="305.5" x2="64.5" y2="305.5"/><line x1="62" y1="275.5" x2="64.5" y2="275.5"/><line x1="62" y1="244.5" x2="64.5" y2="244.5"/><line x1="62" y1="214.5" x2="64.5" y2="214.5"/><line x1="62" y1="184.5" x2="64.5" y2="184.5"/><line x1="62" y1="154.5" x2="64.5" y2="154.5"/><line x1="62" y1="124.5" x2="64.5" y2="124.5"/><line x1="62" y1="93.5" x2="64.5" y2="93.5"/><line x1="62" y1="63.5" x2="64.5" y2="63.5"/><line x1="91.5" y1="430.5" x2="91.5" y2="433"/><line x1="135.5" y1="430.5" x2="135.5" y2="433"/><line x1="180.5" y1="430.5" x2="180.5" y2="433"/><line x1="225.5" y1="430.5" x2="225.5" y2="433"/><line x1="269.5" y1="430.5" x2="269.5" y2="433"/><line x1="314.5" y1="430.5" x2="314.5" y2="433"/><line x1="358.5" y1="430.5" x2="358.5" y2="433"/><line x1="403.5" y1="430.5" x2="403.5" y2="433"/><line x1="448.5" y1="430.5" x2="448.5" y2="433"/><line x1="492.5" y1="430.5" x2="492.5" y2="433"/><line x1="537.5" y1="430.5" x2="537.5" y2="433"/><line x1="582.5" y1="430.5" x2="582.5" y2="433"/><line x1="626.5" y1="430.5" x2="626.5" y2="433"/><line x1="671.5" y1="430.5" x2="671.5" y2="433"/><line x1="716.5" y1="430.5" x2="716.5" y2="433"/><line x1="760.5" y1="430.5" x2="760.5" y2="433"/><line x1="805.5" y1="430.5" x2="805.5" y2="433"/><line x1="849.5" y1="430.5" x2="849.5" y2="433"/></g>
<g font-family="DejaVu Sans, Liberation Sans, sans-serif" font-size="12" fill="#4a4a4a"><text x="57.6" y="430.56" text-anchor="end" textLength="25.4" lengthAdjust="spacingAndGlyphs">0.00</text><text x="57.6" y="400.39" text-anchor="end" textLength="25.4" lengthAdjust="spacingAndGlyphs">0.05</text><text x="57.6" y="370.22" text-anchor="end" textLength="25.4" lengthAdjust="spacingAndGlyphs">0.10</text><text x="57.6" y="340.05" text-anchor="end" textLength="25.4" lengthAdjust="spacingAndGlyphs">0.15</text><text x="57.6" y="309.88" text-anchor="end" textLength="25.4" lengthAdjust="spacingAndGlyphs">0.20</text><text x="57.6" y="279.71" text-anchor="end" textLength="25.4" lengthAdjust="spacingAndGlyphs">0.25</text><text x="57.6" y="249.54" text-anchor="end" textLength="25.4" lengthAdjust="spacingAndGlyphs">0.30</text><text x="57.6" y="219.37" text-anchor="end" textLength="25.4" lengthAdjust="spacingAndGlyphs">0.35</text><text x="57.6" y="189.20" text-anchor="end" textLength="25.4" lengthAdjust="spacingAndGlyphs">0.40</text><text x="57.6" y="159.03" text-anchor="end" textLength="25.4" lengthAdjust="spacingAndGlyphs">0.45</text><text x="57.6" y="128.86" text-anchor="end" textLength="25.4" lengthAdjust="spacingAndGlyphs">0.50</text><text x="57.6" y="98.69" text-anchor="end" textLength="25.4" lengthAdjust="spacingAndGlyphs">0.55</text><text x="57.6" y="68.52" text-anchor="end" textLength="25.4" lengthAdjust="spacingAndGlyphs">0.60</text><text x="73.97" y="445.9" textLength="32.79" lengthAdjust="spacingAndGlyphs">08:00</text><text x="118.61" y="445.9" textLength="32.79" lengthAdjust="spacingAndGlyphs">08:30</text><text x="163.25" y="445.9" textLength="32.71" lengthAdjust="spacingAndGlyphs">09:00</text><text x="207.88" y="445.9" textLength="32.7" lengthAdjust="spacingAndGlyphs">09:30</text><text x="252.62" y="445.9" textLength="32.75" lengthAdjust="spacingAndGlyphs">10:00</text><text x="297.26" y="445.9" textLength="32.75" lengthAdjust="spacingAndGlyphs">10:30</text><text x="341.9" y="445.9" textLength="32.91" lengthAdjust="spacingAndGlyphs">11:00</text><text x="386.54" y="445.9" textLength="32.91" lengthAdjust="spacingAndGlyphs">11:30</text><text x="431.17" y="445.9" textLength="32.75" lengthAdjust="spacingAndGlyphs">12:00</text><text x="475.81" y="445.9" textLength="32.75" lengthAdjust="spacingAndGlyphs">12:30</text><text x="520.44" y="445.9" textLength="32.75" lengthAdjust="spacingAndGlyphs">13:00</text><text x="565.08" y="445.9" textLength="32.75" lengthAdjust="spacingAndGlyphs">13:30</text><text x="609.72" y="445.9" textLength="32.93" lengthAdjust="spacingAndGlyphs">14:00</text><text x="654.36" y="445.9" textLength="32.93" lengthAdjust="spacingAndGlyphs">14:30</text><text x="698.99" y="445.9" textLength="32.75" lengthAdjust="spacingAndGlyphs">15:00</text><text x="743.63" y="445.9" textLength="32.75" lengthAdjust="spacingAndGlyphs">15:30</text><text x="788.27" y="445.9" textLength="32.75" lengthAdjust="spacingAndGlyphs">16:00</text><text x="832.9" y="445.9" textLength="32.75" lengthAdjust="spacingAndGlyphs">16:30</text></g>
<text x="463" y="465.1" font-family="DejaVu Sans, Liberation Sans, sans-serif" font-size="13.62" textLength="30.13" lengthAdjust="spacingAndGlyphs" fill="#333333" stroke="#333333" stroke-width="0.3">time</text>
<g font-family="DejaVu Sans, Liberation Sans, sans-serif" fill="#333333" stroke="#333333" stroke-width="0.3"><text transform="translate(24.4,263.4) rotate(-90)" font-size="12.8" textLength="34.3" lengthAdjust="spacingAndGlyphs">Watt</text><text transform="translate(26.0,228.0) rotate(-90)" font-size="16.2" textLength="6.56" lengthAdjust="spacingAndGlyphs">/</text><text transform="translate(24.4,221.2) rotate(-90)" font-size="12.8" textLength="22.8" lengthAdjust="spacingAndGlyphs">Wp</text></g>
<text transform="translate(388.7,21.1) scale(1,1.0)" x="0" y="0" font-family="DejaVu Sans, Liberation Sans, sans-serif" font-weight="bold" font-size="20.6" textLength="122.54" lengthAdjust="spacingAndGlyphs" fill="#000000">17-11-2017</text>
<rect x="128.5" y="477.5" width="643" height="21" fill="#ffffff" stroke="#000000" stroke-width="1"/><line x1="131" y1="488" x2="147" y2="488" stroke="#cc00cc" stroke-width="2"/><circle cx="139" cy="487.5" r="1.3" fill="#cc00cc"/><line x1="452" y1="488" x2="468" y2="488" stroke="#0033cc" stroke-width="2"/><circle cx="460" cy="487.5" r="1.3" fill="#0033cc"/><g font-family="DejaVu Sans, Liberation Sans, sans-serif" font-size="12" fill="#4a4a4a"><text x="148.9" y="492.7" textLength="224.771" lengthAdjust="spacingAndGlyphs">SB3000TL-20-SN2100578613_21panels(</text><text x="376.0" y="492.7" textLength="32.893" lengthAdjust="spacingAndGlyphs">4.220</text><text x="411.9" y="492.7" textLength="26.242" lengthAdjust="spacingAndGlyphs">kWh</text><text x="442.1" y="492.7" textLength="5.144" lengthAdjust="spacingAndGlyphs">)</text><text x="469.7" y="492.7" textLength="224.172" lengthAdjust="spacingAndGlyphs">SB3000TL-21-SN2130032031_19panels(</text><text x="696.9" y="492.7" textLength="32.681" lengthAdjust="spacingAndGlyphs">3.646</text><text x="732.7" y="492.7" textLength="26.652" lengthAdjust="spacingAndGlyphs">kWh</text><text x="762.9" y="492.7" textLength="5.144" lengthAdjust="spacingAndGlyphs">)</text></g></svg>
</body></html>
